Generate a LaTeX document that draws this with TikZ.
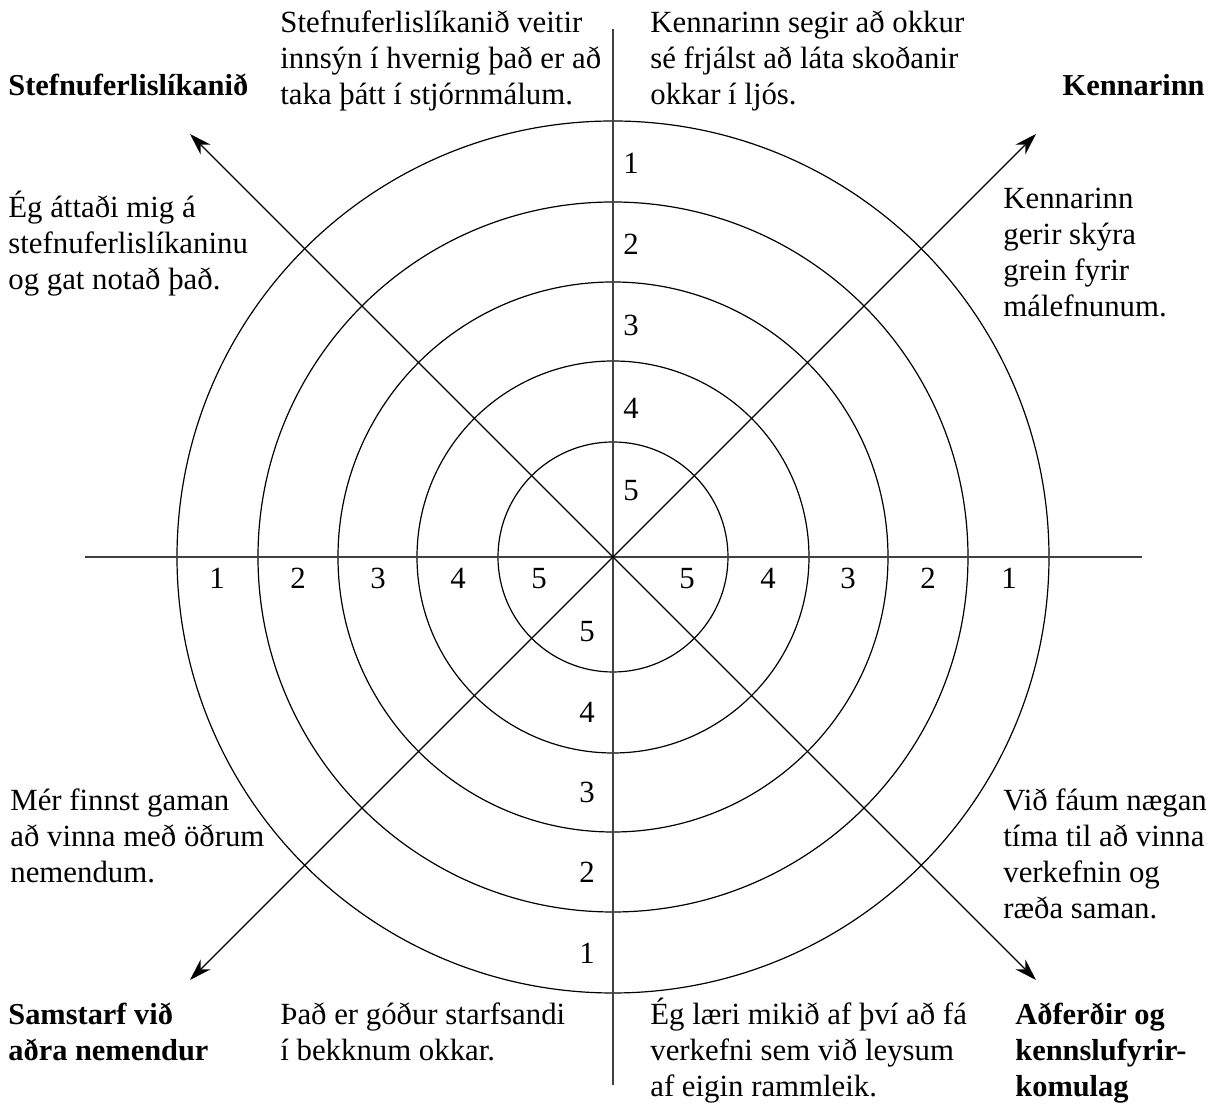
\documentclass[tikz,border=0pt]{standalone}
\usepackage{fontspec}
\setmainfont{Liberation Serif}
\usetikzlibrary{arrows.meta}
\newcommand\topstrut{\rule{0pt}{17pt}}

\begin{document}
\begin{tikzpicture}[x=0.5pt, y=0.5pt,
        txt/.style={anchor=north west, inner sep=0pt, align=left, font=\fontsize{15.4}{18}\selectfont},
        head/.style={txt, font=\fontsize{15.2}{18}\selectfont\bfseries},
        num/.style={inner sep=0pt, text height=10.4pt, text depth=0pt, font=\fontsize{15.4}{18}\selectfont},
        ring/.style={line width=0.6pt},
        axis/.style={line width=0.8pt, black!75},
        ray/.style={line width=0.6pt, -{Stealth[length=11pt, width=7pt]}}]
        \useasboundingbox (-613,557) rectangle (609,-549);
        \coordinate (c) at (0,0);

        % rings
        \foreach \r in {115,196,275,355,436}
            \draw[ring] (c) circle[radius=\r];

        % axes
        \coordinate (n) at (0,528);
        \coordinate (s) at (0,-528);
        \coordinate (w) at (-528,0);
        \coordinate (e) at (529,0);
        \draw[axis] (w) -- (e);
        \draw[axis] (n) -- (s);

        % diagonal arrows
        \coordinate (nw) at (-423,423);
        \coordinate (ne) at (423,423);
        \coordinate (sw) at (-423,-423);
        \coordinate (se) at (423,-423);
        \draw[ray] (c) -- (nw);
        \draw[ray] (c) -- (ne);
        \draw[ray] (c) -- (sw);
        \draw[ray] (c) -- (se);

        % scale numbers
        \foreach \k/\r/\t in {1/396/394,2/315/313,3/235/232,4/155/149,5/74/67} {
            \node[num] (top\k) at (18,\t) {\k};
            \node[num] (bot\k) at (-26,-\r) {\k};
            \node[num] (lft\k) at (-\r,-21) {\k};
            \node[num] (rgt\k) at (\r,-21) {\k};
        }

        % headings
        \node[head] (policy) at (-605,496) {\topstrut Stefnuferlislíkanið};
        \node[head, anchor=north east] (teacher) at (592,496) {\topstrut Kennarinn};
        \node[head] (team) at (-605,-433) {\topstrut Samstarf við\\aðra nemendur};
        \node[head] (method) at (402,-433) {\topstrut Aðferðir og\\kennslufyrir-\\komulag};

        % statements
        \node[txt] (s1) at (-333,559) {\topstrut Stefnuferlislíkanið veitir\\innsýn í hvernig það er að\\taka þátt í stjórnmálum.};
        \node[txt] (s2) at (37,559) {\topstrut Kennarinn segir að okkur\\sé frjálst að láta skoðanir\\okkar í ljós.};
        \node[txt] (s3) at (-605,374) {\topstrut Ég áttaði mig á\\stefnuferlislíkaninu\\og gat notað það.};
        \node[txt] (s4) at (390,383) {\topstrut Kennarinn\\gerir skýra\\grein fyrir\\málefnunum.};
        \node[txt] (s5) at (-603,-219) {\topstrut Mér finnst gaman\\að vinna með öðrum\\nemendum.};
        \node[txt] (s6) at (390,-219) {\topstrut Við fáum nægan\\tíma til að vinna\\verkefnin og\\ræða saman.};
        \node[txt] (s7) at (-333,-433) {\topstrut Það er góður starfsandi\\í bekknum okkar.};
        \node[txt] (s8) at (37,-433) {\topstrut Ég læri mikið af því að fá\\verkefni sem við leysum\\af eigin rammleik.};
    \end{tikzpicture}
\end{document}
